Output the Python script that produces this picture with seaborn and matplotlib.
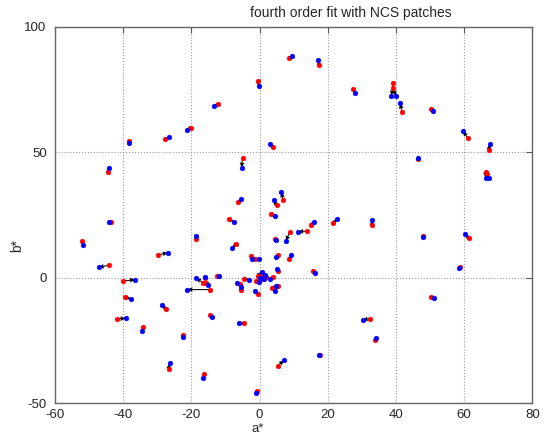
import numpy as np
import pandas as pd
import matplotlib

matplotlib.use("Agg")

import matplotlib.pyplot as plt
import seaborn as sns

# measured (red) and fitted (blue) coordinates, one entry per NCS patch
red_a = [-0.5, 8.5, 17.5, 27.4, -12.3, 3.8, -5.0, -38.2, -27.65, -20.2,
         39.2, 39.2, 41.8, 50.3, 61.1, 67.2, 46.4, 66.3, 66.6, 32.9,
         47.8, 61.3, 58.8, -44.5, -43.5, -52.2, -44.3, -29.9, -18.7, -40.0,
         -39.5, -27.4, -41.9, -34.1, -22.5, -26.7, -16.2, -14.5, -14.5, -16.5,
         -16.0, -15.6, -12.6, 7.0, -6.2, 5.0, 3.5, -8.9, 15.0, 21.6,
         8.9, 13.9, 4.5, -6.9, -2.6, -1.4, 5.5, 8.7, 5.4, 15.6,
         -5.5, -5.8, -4.6, -0.6, 3.7, 5.4, 3.9, 0.4, -0.5, 0.8,
         -1.0, 1.9, -4.5, 5.4, 17.7, -0.85, 32.3, 34.0, 50.3]
red_b = [78.2, 87.7, 84.6, 75.2, 69.0, 52.0, 47.6, 54.3, 55.1, 59.8,
         77.4, 75.6, 66.1, 67.0, 55.5, 50.9, 47.2, 42.1, 41.3, 20.9,
         16.6, 15.8, 4.3, 41.9, 22.0, 14.5, 4.9, 9.0, 15.3, -1.4,
         -7.8, -12.6, -16.4, -19.7, -22.9, -36.6, -38.3, -4.8, -14.8, -2.1,
         -0.1, -2.2, 0.7, 31.0, 30.0, 28.8, 25.5, 23.2, 21.1, 21.6,
         18.2, 18.5, 15.3, 13.4, 8.4, 7.3, 8.8, 7.6, 2.7, 2.8,
         -5.0, -2.7, -0.4, -6.5, -4.0, -3.4, 0.2, 1.1, 0.7, -0.5,
         -1.2, 0.4, -18.3, -35.1, -30.9, -45.2, -16.4, -24.7, -7.6]
blue_a = [-0.3, 9.4, 17.2, 28.1, -13.5, 3.1, -5.25, -38.3, -26.5, -21.4,
          38.7, 40.0, 41.2, 51.0, 59.7, 67.6, 46.5, 66.3, 67.4, 32.9,
          47.8, 60.3, 58.6, -44.2, -44.1, -51.8, -47.2, -26.9, -18.65, -36.5,
          -37.7, -28.6, -39.3, -34.5, -22.4, -26.4, -16.6, -21.2, -14.0, -18.65,
          -15.9, -15.1, -12.0, 6.3, -5.5, 4.1, 4.5, -7.5, 15.9, 22.7,
          7.7, 11.3, 4.7, -8.0, -2.3, -0.3, 4.7, 9.1, 5.2, 16.3,
          -5.4, -6.5, -3.1, -1.35, 4.7, 4.6, 3.0, 0.0, 0.6, 1.5,
          -0.3, 1.2, -5.95, 7.2, 17.4, -1.1, 30.2, 34.3, 51.3]
blue_b = [76.3, 88.2, 86.7, 73.6, 68.4, 53.2, 43.8, 53.7, 55.9, 58.9,
          72.5, 72.3, 69.4, 66.5, 58.4, 53.2, 47.8, 39.7, 39.7, 22.8,
          16.2, 17.3, 4.0, 43.7, 22.0, 13.1, 4.1, 9.9, 16.5, -0.8,
          -8.5, -11.1, -16.3, -21.2, -23.6, -34.2, -39.9, -4.8, -15.6, -0.2,
          0.2, -2.9, 0.7, 34.0, 31.2, 30.9, 24.4, 22.2, 22.2, 23.4,
          14.6, 18.3, 15.1, 11.9, 7.4, 7.3, 8.0, 8.8, 3.5, 1.9,
          -3.6, -2.1, -0.9, -5.2, -3.2, -5.2, -0.6, 0.0, 2.3, 1.0,
          -1.8, -0.7, -18.3, -33.0, -30.9, -46.2, -16.8, -23.9, -8.1]

x_ticks = [-60, -40, -20, 0, 20, 40, 60, 80]
y_ticks = [-50, 0, 50, 100]

sns.set_style("white")
plt.rcParams["font.family"] = ["Liberation Sans", "DejaVu Sans"]

fig = plt.figure(figsize=(5.44, 4.34), dpi=100)
ax = fig.add_axes([55 / 544, 31 / 434, 477.3 / 544, 376.3 / 434])

df_red = pd.DataFrame({"a": red_a, "b": red_b})
df_blue = pd.DataFrame({"a": blue_a, "b": blue_b})

# arrows from measured to fitted position
ra = np.array(red_a)
rb = np.array(red_b)
ax.quiver(ra, rb, np.array(blue_a) - ra, np.array(blue_b) - rb,
          angles="xy", scale_units="xy", scale=1, color="black",
          width=0.0022, headwidth=4.5, headlength=5, headaxislength=4.5,
          zorder=2)

sns.scatterplot(data=df_red, x="a", y="b", color="#ff0000", s=12,
                edgecolor="#ff0000", linewidth=0.3, ax=ax, zorder=3)
sns.scatterplot(data=df_blue, x="a", y="b", color="#0000ff", s=12,
                edgecolor="#0000ff", linewidth=0.3, ax=ax, zorder=4)

ax.set_xlim(-60, 80)
ax.set_ylim(-50, 100)
ax.set_xticks(x_ticks)
ax.set_yticks(y_ticks)
ax.set_xticklabels([str(t) for t in x_ticks])
ax.set_yticklabels([str(t) for t in y_ticks])
ax.grid(True, linestyle=":", color="#9a9a9a", linewidth=0.8)
ax.set_axisbelow(True)
ax.tick_params(direction="in", length=4, width=0.8, color="#555555",
               labelsize=9.5, top=True, right=True)
ax.tick_params(axis="x", pad=4)
ax.tick_params(axis="y", pad=6)
for spine in ax.spines.values():
    spine.set_color("#666666")
    spine.set_linewidth(1.0)
ax.set_xlabel("")
ax.set_ylabel("")

fig.text(351 / 544, 1 - 13 / 434, "fourth order fit with NCS patches",
         ha="center", va="center", fontsize=10)
fig.text(258 / 544, 1 - 429 / 434, "a*", ha="center", va="center", fontsize=9.5)
fig.text(17 / 544, 1 - 245 / 434, "b*", ha="center", va="center",
         fontsize=10, rotation=90)

fig.savefig("out.png", dpi=100)
plt.close(fig)
